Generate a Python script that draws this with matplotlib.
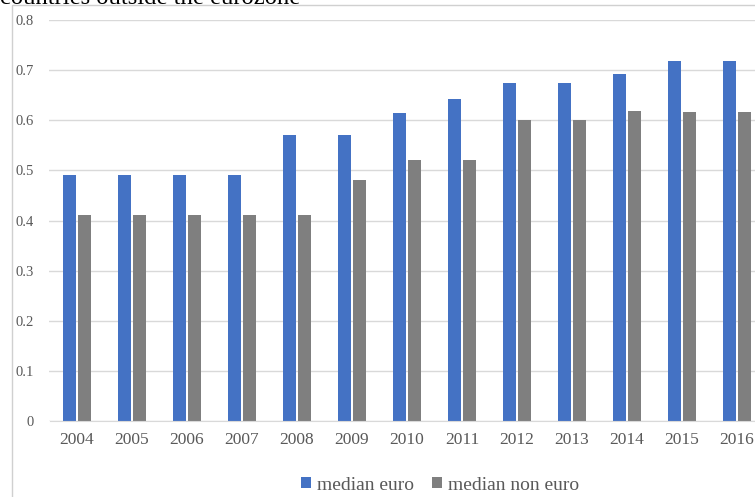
import numpy as np
import matplotlib.pyplot as plt
from matplotlib.patches import Rectangle

plt.rcParams['font.family'] = 'Liberation Serif'

years = ['2004', '2005', '2006', '2007', '2008', '2009', '2010',
         '2011', '2012', '2013', '2014', '2015', '2016']
median_euro = [0.49, 0.49, 0.49, 0.49, 0.57, 0.57, 0.615,
               0.642, 0.675, 0.675, 0.692, 0.718, 0.718]
median_non_euro = [0.41, 0.41, 0.41, 0.41, 0.41, 0.48, 0.52,
                   0.52, 0.60, 0.60, 0.619, 0.616, 0.616]

fig = plt.figure(figsize=(7.55, 4.97), dpi=100)

# chart frame (partly cut off on the right and bottom)
fig.patches.append(Rectangle((12 / 755, -0.1), 1.2, 1 - 5 / 497 + 0.1,
                             transform=fig.transFigure, fill=False,
                             edgecolor='#d0d0d0', linewidth=1))
fig.text(0, 1 - 4 / 497, 'countries outside the eurozone', fontsize=17.7,
         va='baseline', ha='left', color='black')

ax = fig.add_axes([49.5 / 755, 76 / 497, 715 / 755, 401 / 497])
x = np.arange(len(years))
w = 0.23
ax.bar(x - 0.135, median_euro, w, color='#4472c4', label='median euro')
ax.bar(x + 0.135, median_non_euro, w, color='#7f7f7f', label='median non euro')

ax.set_xlim(-0.5, len(years) - 0.5)
ax.set_ylim(0, 0.8)
ax.set_yticks(np.arange(0, 0.81, 0.1))
ax.set_yticklabels(['0', '0.1', '0.2', '0.3', '0.4', '0.5', '0.6', '0.7', '0.8'])
ax.set_xticks(x)
ax.set_xticklabels(years)
ax.grid(axis='y', color='#d9d9d9', linewidth=1)
ax.set_axisbelow(True)
for s in ['top', 'right', 'left']:
    ax.spines[s].set_visible(False)
ax.spines['bottom'].set_color('#d9d9d9')
ax.tick_params(axis='both', length=0, labelcolor='#595959')
ax.tick_params(axis='y', pad=11, labelsize=10.5)
ax.tick_params(axis='x', pad=8, labelsize=12.5)

ax.legend(loc='center', bbox_to_anchor=((440 - 49.5) / 715, (12 - 76) / 401),
          ncol=2, frameon=False, fontsize=14, handlelength=0.55,
          handleheight=0.55, handletextpad=0.3, columnspacing=0.9,
          labelcolor='#595959')

fig.savefig('out.png', dpi=100)
